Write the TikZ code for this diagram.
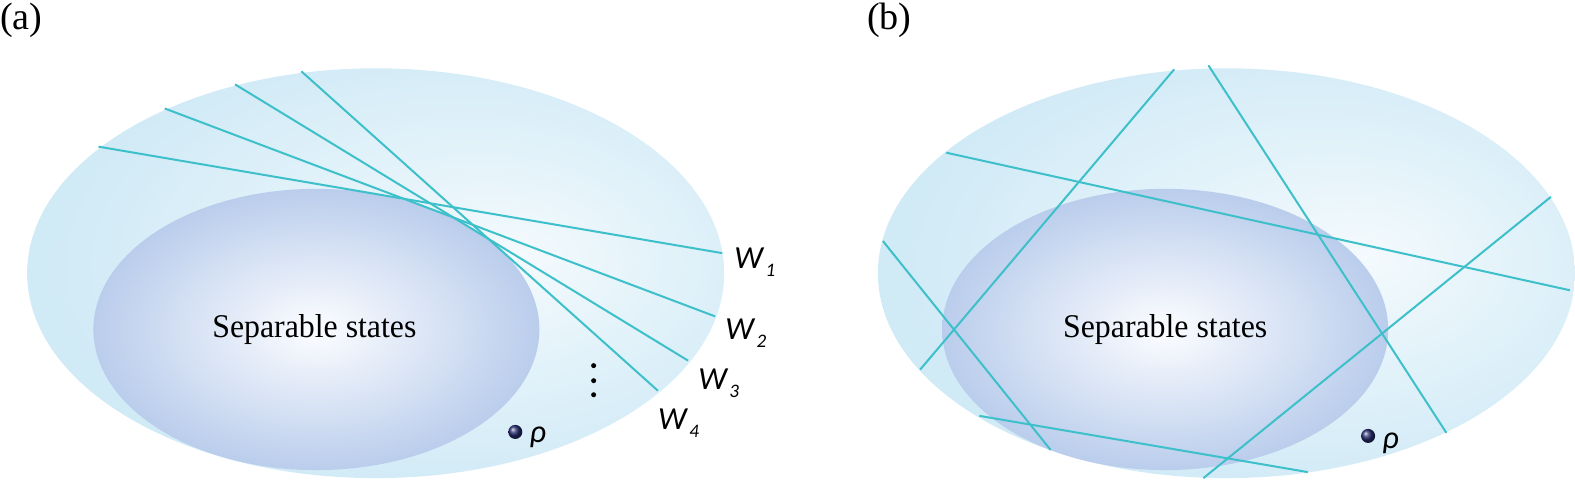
\documentclass[tikz,border=0pt]{standalone}
\usepackage{fontspec}
\setmainfont{Liberation Serif}
\newfontfamily\labfont{Carlito}
\usetikzlibrary{shapes.geometric}
\definecolor{outerout}{RGB}{208,234,246}
\definecolor{outerin}{RGB}{244,250,253}
\definecolor{innerout}{RGB}{186,205,236}
\definecolor{innerin}{RGB}{252,253,255}
\definecolor{wline}{RGB}{62,192,202}
\definecolor{dotc}{RGB}{40,46,112}
\pgfdeclareradialshading{outershade}{\pgfpoint{10bp}{2bp}}{color(0bp)=(outerin); color(28bp)=(outerout); color(50bp)=(outerout)}
\pgfdeclareradialshading{innershade}{\pgfpoint{0bp}{0bp}}{color(0bp)=(innerin); color(25bp)=(innerout); color(50bp)=(innerout)}
\tikzset{
  outerell/.style={ellipse, inner sep=0pt, minimum width=694pt, minimum height=408pt, shading=outershade},
  innerell/.style={ellipse, inner sep=0pt, minimum width=444pt, minimum height=280pt, shading=innershade},
  wit/.style={draw=wline, line width=2pt},
  seplabel/.style={font=\fontsize{33}{40}\selectfont, xscale=0.96, anchor=base, inner sep=0pt},
  panel/.style={font=\fontsize{38}{46}\selectfont, anchor=base west, inner sep=0pt},
  wlab/.style={font=\labfont\itshape\fontsize{32}{38}\selectfont, anchor=base west, inner sep=0pt},
  state/.style={circle, inner sep=0pt, minimum size=14pt, ball color=dotc},
  vdot/.style={circle, fill=black, inner sep=0pt, minimum size=5pt}
}
\newcommand{\sub}[1]{\kern0.08em\raisebox{-8pt}{\fontsize{19}{19}\selectfont #1}}
\begin{document}
\begin{tikzpicture}[x=1pt, y=-1pt]
\useasboundingbox (0,0) rectangle (1568,478);
% ---------- panel (a) ----------
\node[panel] (labA) at (0,29) {(a)};
\node[outerell] (outA) at (374,272) {};
\node[innerell] (inA) at (315,328) {};
\node[seplabel] (sepA) at (313,336) {Separable states};
\coordinate (w1s) at (98,146);  \coordinate (w1e) at (719,252);
\coordinate (w2s) at (164,108); \coordinate (w2e) at (712,315);
\coordinate (w3s) at (234,84);  \coordinate (w3e) at (685,359);
\coordinate (w4s) at (300,71);  \coordinate (w4e) at (655,389);
\draw[wit] (w1s) -- (w1e);
\draw[wit] (w2s) -- (w2e);
\draw[wit] (w3s) -- (w3e);
\draw[wit] (w4s) -- (w4e);
\node[wlab] (W1) at (731,267) {W\sub{1}};
\node[wlab] (W2) at (722,338) {W\sub{2}};
\node[wlab] (W3) at (695,388) {W\sub{3}};
\node[wlab] (W4) at (655,428) {W\sub{4}};
\node[vdot] (d1) at (591,364) {};
\node[vdot] (d2) at (591,379) {};
\node[vdot] (d3) at (591,393) {};
\node[state] (rhoA) at (513,430) {};
\node[wlab] (rhoAl) at (527,441) {ρ};
% ---------- panel (b) ----------
\node[panel] (labB) at (863,29) {(b)};
\node[outerell] (outB) at (1221,272) {};
\node[innerell] (inB) at (1160,328) {};
\node[seplabel] (sepB) at (1160,336) {Separable states};
\coordinate (l1s) at (942,152);  \coordinate (l1e) at (1563,289);
\coordinate (l2s) at (1169,69);  \coordinate (l2e) at (916,368);
\coordinate (l3s) at (1203,65);  \coordinate (l3e) at (1440,431);
\coordinate (l4s) at (879,240);  \coordinate (l4e) at (1046,448);
\coordinate (l5s) at (1544,196); \coordinate (l5e) at (1198,476);
\coordinate (l6s) at (975,414);  \coordinate (l6e) at (1302,470);
\draw[wit] (l1s) -- (l1e);
\draw[wit] (l2s) -- (l2e);
\draw[wit] (l3s) -- (l3e);
\draw[wit] (l4s) -- (l4e);
\draw[wit] (l5s) -- (l5e);
\draw[wit] (l6s) -- (l6e);
\node[state] (rhoB) at (1362,434) {};
\node[wlab] (rhoBl) at (1376,447) {ρ};
\end{tikzpicture}
\end{document}
